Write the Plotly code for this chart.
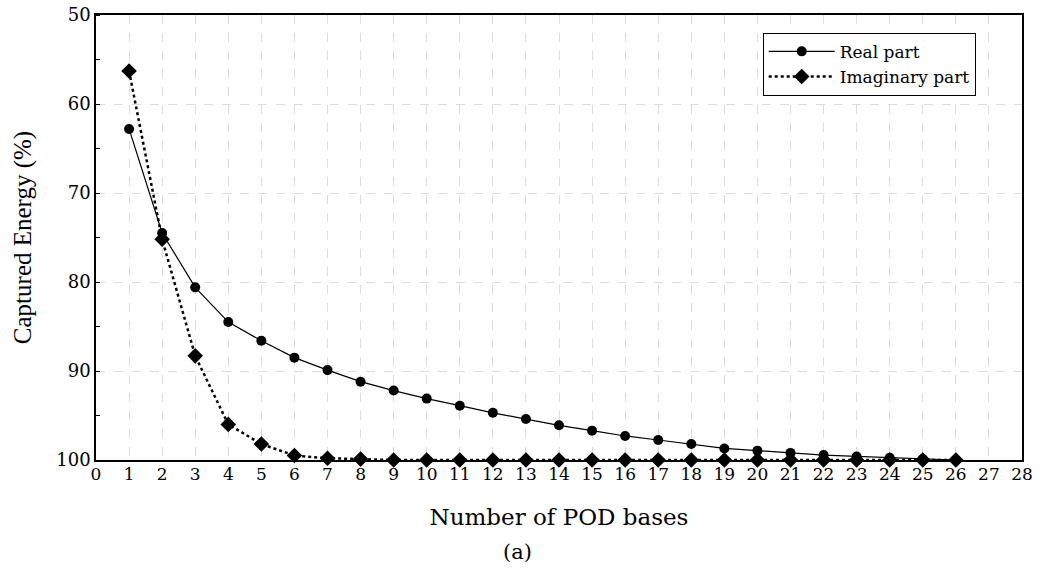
import plotly.graph_objects as go

n_bases = list(range(1, 27))
real_part = [62.8, 74.5, 80.6, 84.5, 86.6, 88.5, 89.9, 91.2, 92.2, 93.1, 93.9, 94.7, 95.4,
             96.1, 96.7, 97.3, 97.75, 98.2, 98.7, 98.95, 99.2, 99.45, 99.6, 99.75, 99.9, 100.0]
imag_part = [56.3, 75.2, 88.3, 96.0, 98.2, 99.5, 99.8, 99.9, 100.0, 100.0, 100.0, 100.0, 100.0,
             100.0, 100.0, 100.0, 100.0, 100.0, 100.0, 100.0, 100.0, 100.0, 100.0, 100.0, 100.0, 100.0]
x_ticks = list(range(0, 29))
y_ticks = [50, 60, 70, 80, 90, 100]

WIDE = "DejaVu Serif"
TIMES = "Liberation Serif"

fig = go.Figure()
fig.add_trace(go.Scatter(
    x=n_bases, y=real_part, name="Real part", mode="lines+markers",
    line=dict(color="black", width=1.2),
    marker=dict(symbol="circle", size=10, color="black"),
    cliponaxis=False,
))
fig.add_trace(go.Scatter(
    x=n_bases, y=imag_part, name="Imaginary part", mode="lines+markers",
    line=dict(color="black", width=2.5, dash="dot"),
    marker=dict(symbol="diamond", size=12, color="black"),
    cliponaxis=False,
))

fig.update_layout(
    width=1039, height=570,
    margin=dict(l=96, r=17, t=15, b=110, autoexpand=False),
    paper_bgcolor="white", plot_bgcolor="white",
    font=dict(family=WIDE, color="black", size=17),
    showlegend=True,
    legend=dict(
        x=0.72, y=0.96, xanchor="left", yanchor="top",
        bordercolor="black", borderwidth=1, bgcolor="white",
        font=dict(family=WIDE, size=17), tracegroupgap=0,
        itemwidth=66,
    ),
    xaxis=dict(
        range=[0, 28], tickvals=x_ticks, ticktext=[str(v) for v in x_ticks],
        showline=True, linecolor="black", linewidth=1.5, mirror=True,
        showgrid=True, gridcolor="#dcdcdc", griddash="dash", gridwidth=1,
        ticks="", zeroline=False, automargin=False,
        ticklabelstandoff=-2,
        tickfont=dict(family=WIDE, size=17),
        title=dict(text="Number of POD bases", font=dict(family=WIDE, size=23), standoff=26),
    ),
    yaxis=dict(
        range=[100, 50], tickvals=y_ticks, ticktext=[str(v) for v in y_ticks],
        showline=True, linecolor="black", linewidth=1.5, mirror=True,
        showgrid=True, gridcolor="#dcdcdc", griddash="dash", gridwidth=1,
        ticks="", zeroline=False, automargin=False,
        minor=dict(ticks="inside", dtick=5, tick0=55, ticklen=4, tickcolor="black", showgrid=False),
        tickfont=dict(family=WIDE, size=18),
        title=dict(text="Captured Energy (%)", font=dict(family=TIMES, size=25), standoff=18),
    ),
    annotations=[dict(
        text="(a)", xref="paper", yref="paper", x=0.455, y=-0.207,
        xanchor="center", yanchor="middle", showarrow=False,
        font=dict(family=WIDE, size=21),
    )],
)

fig.write_html("out.html")
